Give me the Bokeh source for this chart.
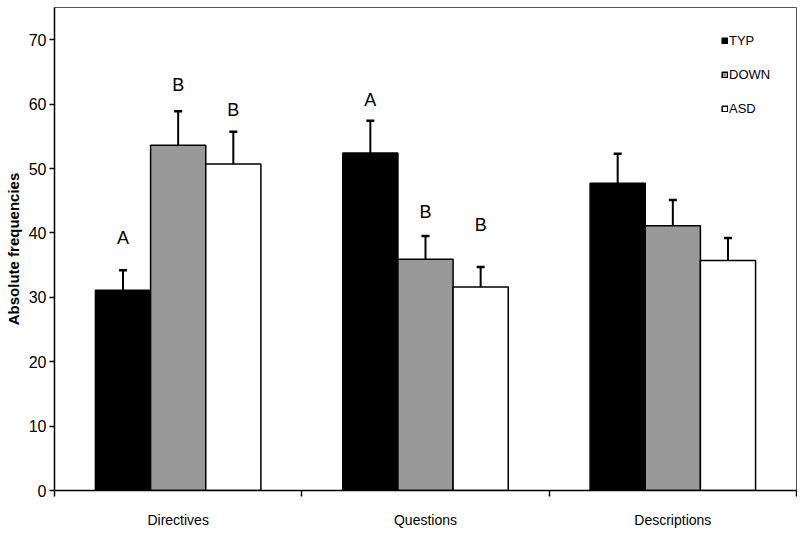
from bokeh.plotting import figure
from bokeh.models import (ColumnDataSource, Range1d, FixedTicker, Whisker, TeeHead,
                          Legend, LegendItem)
from bokeh.core.properties import value
from bokeh.embed import file_html
from bokeh.resources import INLINE

# ---- data ----
categories = ["Directives", "Questions", "Descriptions"]
groups = ["TYP", "DOWN", "ASD"]
typ = [31.1, 52.4, 47.7]
down = [53.6, 35.9, 41.1]
asd = [50.7, 31.6, 35.7]
typ_err = [3.1, 5.0, 4.6]
down_err = [5.3, 3.6, 4.0]
asd_err = [5.0, 3.1, 3.5]
# significance letters: (category index, group index, letter, y position)
sig_cat = [0, 0, 0, 1, 1, 1]
sig_grp = [0, 1, 2, 0, 1, 2]
sig_txt = ["A", "B", "B", "A", "B", "B"]
sig_y = [39.2, 63.0, 59.1, 60.7, 43.2, 41.2]
y_ticks = [0, 10, 20, 30, 40, 50, 60, 70]

FONT = "Liberation Sans"
BAR_W = 0.223
offsets = [-BAR_W, 0.0, BAR_W]
fills = ["#000000", "#999999", "#ffffff"]
series = [typ, down, asd]
errs = [typ_err, down_err, asd_err]

p = figure(width=797, height=536, output_backend="svg", toolbar_location=None,
           x_range=Range1d(0, 3), y_range=Range1d(0, 75),
           min_border_left=54, min_border_right=1, min_border_top=7, min_border_bottom=46)
p.background_fill_color = "white"
p.border_fill_color = "white"
p.outline_line_color = "#555555"
p.outline_line_width = 1
p.xgrid.visible = False
p.ygrid.visible = False

renderers = []
for gi in range(3):
    xs = [i + 0.5 + offsets[gi] for i in range(len(categories))]
    tops = series[gi]
    src = ColumnDataSource(dict(x=xs, top=tops,
                                upper=[t + e for t, e in zip(tops, errs[gi])]))
    r = p.vbar(x="x", top="top", bottom=0, width=BAR_W, source=src,
               fill_color=fills[gi], line_color="black", line_width=1.5)
    renderers.append(r)
    w = Whisker(source=src, base="x", lower="top", upper="upper", dimension="height",
                line_color="black", line_width=2,
                upper_head=TeeHead(size=8, line_color="black", line_width=2.5),
                lower_head=None)
    p.add_layout(w)

sig_x = [c + 0.5 + offsets[g] for c, g in zip(sig_cat, sig_grp)]
p.text(x=sig_x, y=sig_y, text=sig_txt, text_align="center", text_baseline="middle",
       text_font=value(FONT), text_font_size="18px", text_color="black")

# axes
p.yaxis.ticker = FixedTicker(ticks=y_ticks)
p.yaxis.minor_tick_line_color = None
p.yaxis.major_tick_out = 5
p.yaxis.major_tick_in = 0
p.yaxis.major_label_standoff = 3
p.yaxis.major_label_text_font = FONT
p.yaxis.major_label_text_font_size = "16px"
p.yaxis.major_label_text_color = "black"
p.yaxis.axis_line_color = "black"
p.yaxis.axis_line_width = 1.5
p.yaxis.major_tick_line_color = "black"
p.yaxis.major_tick_line_width = 1.5
p.yaxis.axis_label = "Absolute frequencies"
p.yaxis.axis_label_text_font = FONT
p.yaxis.axis_label_text_font_style = "bold"
p.yaxis.axis_label_text_font_size = "15px"
p.yaxis.axis_label_text_color = "black"
p.yaxis.axis_label_standoff = 4

p.xaxis.ticker = FixedTicker(ticks=[i + 0.5 for i in range(len(categories))],
                             minor_ticks=list(range(len(categories) + 1)))
p.xaxis.major_label_overrides = {i + 0.5: c for i, c in enumerate(categories)}
p.xaxis.major_tick_out = 0
p.xaxis.major_tick_in = 0
p.xaxis.minor_tick_out = 6
p.xaxis.minor_tick_in = 0
p.xaxis.minor_tick_line_color = "black"
p.xaxis.minor_tick_line_width = 1.5
p.xaxis.axis_line_color = "black"
p.xaxis.axis_line_width = 1.5
p.xaxis.major_label_standoff = 15
p.xaxis.major_label_text_font = FONT
p.xaxis.major_label_text_font_size = "14px"
p.xaxis.major_label_text_color = "black"

legend = Legend(items=[LegendItem(label=g, renderers=[r]) for g, r in zip(groups, renderers)],
                location=(667, 374), glyph_width=7, glyph_height=7, label_standoff=1,
                spacing=19, padding=0, margin=0, border_line_color=None,
                background_fill_alpha=0, label_text_font=FONT, label_text_font_size="13px",
                label_text_color="black")
p.add_layout(legend)

open("out.html", "w").write(file_html(p, INLINE))
